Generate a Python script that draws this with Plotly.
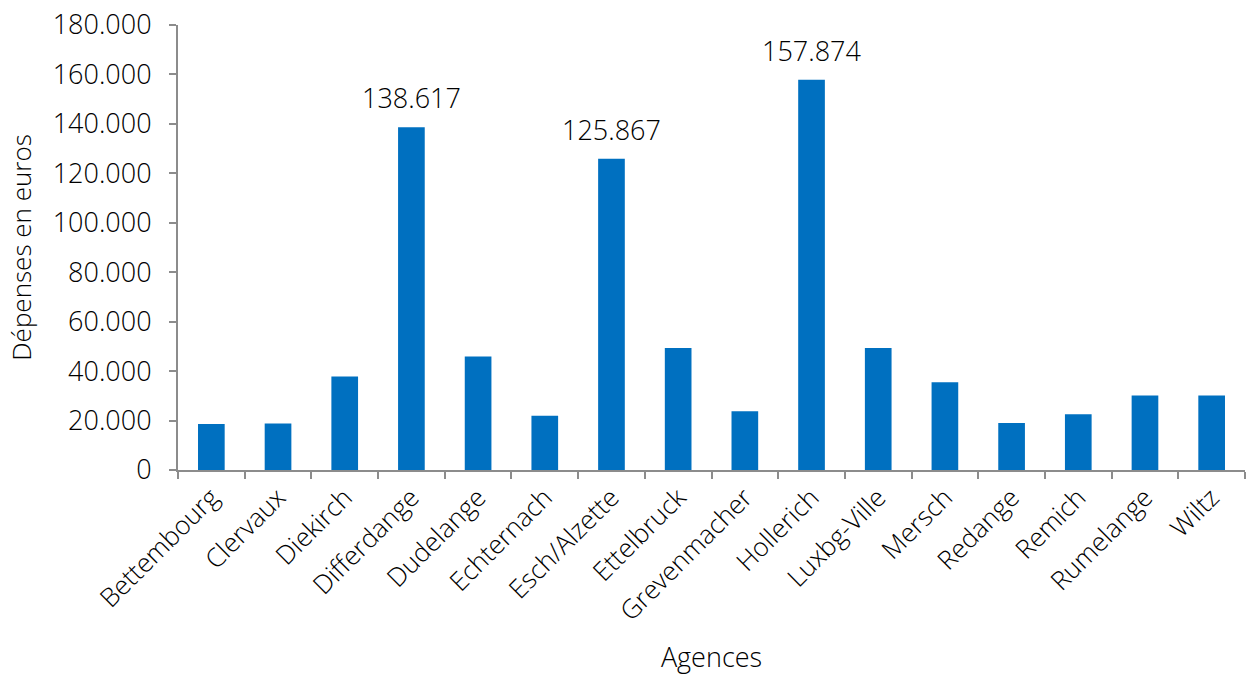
import plotly.graph_objects as go

agences = ["Bettembourg", "Clervaux", "Diekirch", "Differdange", "Dudelange",
           "Echternach", "Esch/Alzette", "Ettelbruck", "Grevenmacher", "Hollerich",
           "Luxbg-Ville", "Mersch", "Redange", "Remich", "Rumelange", "Wiltz"]
depenses = [18600, 18800, 37800, 138617, 45900, 21900, 125867, 49300,
            23800, 157874, 49300, 35500, 19000, 22600, 30100, 30100]
etiquetees = ["Differdange", "Esch/Alzette", "Hollerich"]

FONT = "Open Sans"
WEIGHT = 300
TXT = "#000000"
AXIS_COLOR = "#8c8c8c"

fig = go.Figure(go.Bar(
    x=agences, y=depenses,
    marker=dict(color="#0070c0", line=dict(width=0)),
))

# value labels above the highlighted agencies
for a, v in zip(agences, depenses):
    if a in etiquetees:
        fig.add_annotation(
            x=a, y=v, text=f"{v:,}".replace(",", "."), showarrow=False,
            yanchor="bottom", yshift=9,
            font=dict(family=FONT, size=27, color=TXT, weight=WEIGHT),
        )

fig.update_layout(
    width=1256, height=675,
    margin=dict(l=178, r=11, t=25, b=205),
    paper_bgcolor="white", plot_bgcolor="white",
    separators=",.",
    bargap=0.6,
    showlegend=False,
    font=dict(family=FONT, color=TXT, weight=WEIGHT),
)
fig.update_xaxes(
    showline=True, linecolor=AXIS_COLOR, linewidth=2,
    ticks="outside", tickson="boundaries", tickcolor=AXIS_COLOR, ticklen=7, tickwidth=2,
    tickangle=-45, tickfont=dict(family=FONT, size=26, color=TXT, weight=WEIGHT),
    title=dict(text="Agences", font=dict(family=FONT, size=27, color=TXT, weight=WEIGHT), standoff=34),
    showgrid=False, automargin=False,
)
fig.update_yaxes(
    range=[0, 180000], dtick=20000, tickformat=",d",
    showline=True, linecolor=AXIS_COLOR, linewidth=2,
    ticks="outside", tickcolor=AXIS_COLOR, ticklen=7, tickwidth=2,
    ticklabelstandoff=12,
    tickfont=dict(family=FONT, size=27, color=TXT, weight=WEIGHT),
    title=dict(text="Dépenses en euros", font=dict(family=FONT, size=26, color=TXT, weight=WEIGHT), standoff=14),
    showgrid=False, zeroline=False, automargin=False,
)

fig.write_html("out.html")
